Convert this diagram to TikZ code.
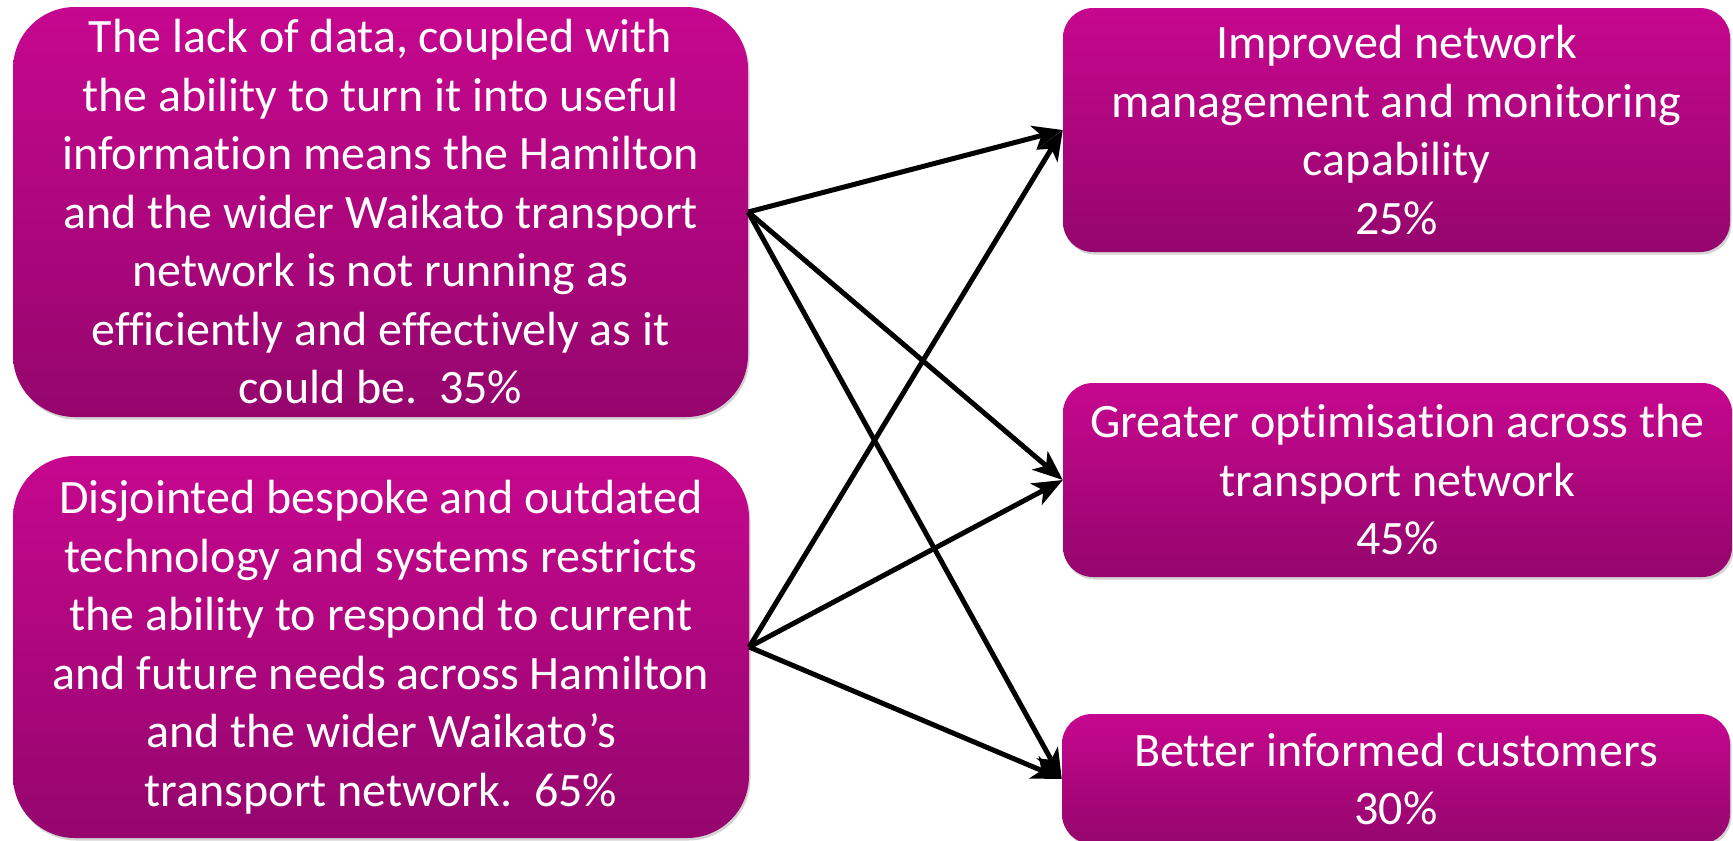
\documentclass[tikz,border=0pt]{standalone}
\usepackage{fontspec}
\setmainfont{Carlito}[Ligatures={NoCommon}]
\usetikzlibrary{arrows.meta,shadows}
\definecolor{boxtop}{HTML}{C6078F}
\definecolor{boxbot}{HTML}{95066D}
\tikzset{
  box/.style={rectangle, inner sep=0pt, text=white, align=center,
    top color=boxtop, bottom color=boxbot, draw=none,
    font=\fontsize{48}{58.5}\selectfont,
    drop shadow={opacity=0.35, shadow xshift=1.5pt, shadow yshift=-2.5pt}},
  bigbox/.style={box, rounded corners=62pt},
  smallbox/.style={box, rounded corners=30pt},
  link/.style={line width=5pt, -{Stealth[length=30pt,width=24pt,inset=8pt]}}
}
\begin{document}
\begin{tikzpicture}[x=1pt,y=-1pt]
\useasboundingbox (0,0) rectangle (1733,841);
\node[bigbox, minimum width=735pt, minimum height=410pt] (A) at (380.5,212)
  {The lack of data, coupled with\\
   the ability to turn it into useful\\
   information means the Hamilton\\
   and the wider Waikato transport\\
   network is not running as\\
   efficiently and effectively as it\\
   could be.\ \ 35\%};
\node[bigbox, minimum width=736pt, minimum height=382pt] (B) at (381,647)
  {Disjointed bespoke and outdated\\
   technology and systems restricts\\
   the ability to respond to current\\
   and future needs across Hamilton\\
   and the wider Waikato’s\\
   transport network.\ \ 65\%};
\node[smallbox, minimum width=667pt, minimum height=244pt] (R1) at (1396.5,130)
  {Improved network\\
   management and monitoring\\
   capability\\
   25\%};
\node[smallbox, minimum width=669pt, minimum height=194pt] (R2) at (1397.5,480)
  {Greater optimisation across the\\
   transport network\\
   45\%};
\node[smallbox, minimum width=668pt, minimum height=130pt] (R3) at (1396,779)
  {Better informed customers\\
   30\%};
\draw[link] (A.east) -- (R1.west);
\draw[link] (A.east) -- (R2.west);
\draw[link] (A.east) -- (R3.west);
\draw[link] (B.east) -- (R1.west);
\draw[link] (B.east) -- (R2.west);
\draw[link] (B.east) -- (R3.west);
\end{tikzpicture}
\end{document}
